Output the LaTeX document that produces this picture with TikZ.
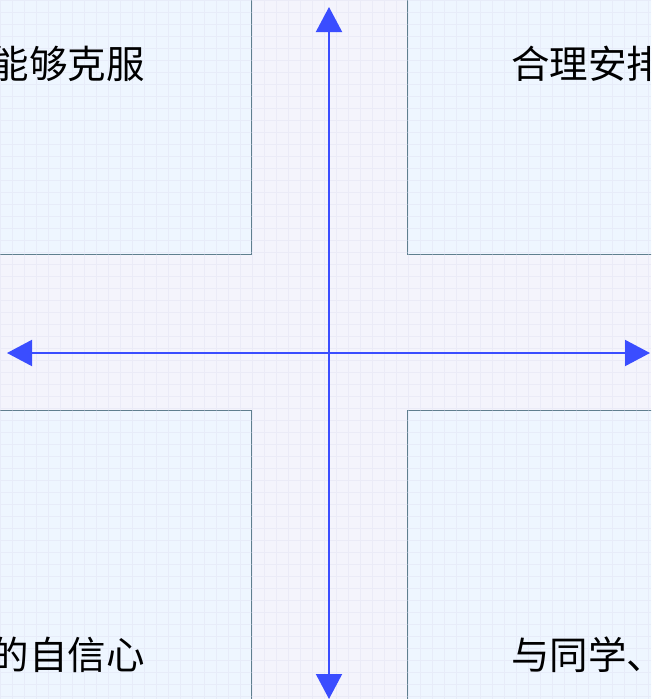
\documentclass[tikz,border=0pt]{standalone}
\usepackage{fontspec}
\newfontfamily\cjk{Noto Sans CJK SC}
\usetikzlibrary{arrows.meta}

\definecolor{paper}{HTML}{F4F4FC}
\definecolor{boxfill}{HTML}{EEF6FF}
\definecolor{boxline}{HTML}{5F7F8F}
\definecolor{axisblue}{HTML}{3A4DFF}
\definecolor{gridline}{HTML}{DCDCEE}

\tikzset{
	quad/.style={draw=boxline, fill=boxfill, line width=.9pt},
	quadtext/.style={inner sep=0pt, font=\cjk\fontsize{38.5}{44}\selectfont},
	axis/.style={draw=axisblue, line width=2pt,
		{Triangle[length=25pt, width=26pt]}-{Triangle[length=25pt, width=26pt]}}
}

\begin{document}
\begin{tikzpicture} [x=1pt, y=-1pt]

		\useasboundingbox (0,0) rectangle (651,699);

		\clip (0,0) rectangle (651,699);

		\fill [paper] (0,0) rectangle (651,699);

		% four quadrants
		\draw [quad] (-10,-10) rectangle (251,254);

		\draw [quad] (407,-10) rectangle (661,254);

		\draw [quad] (-10,410) rectangle (251,709);

		\draw [quad] (407,410) rectangle (661,709);

		\draw [gridline, opacity=.35, line width=.8pt, step=12pt] (0,0) grid (651,699);

		\node[quadtext, anchor=east] (tl) at (145,64) {能够克服};

		\node[quadtext, anchor=west] (tr) at (511,64) {合理安排};

		\node[quadtext, anchor=east] (bl) at (145,655) {的自信心};

		\node[quadtext, anchor=west] (br) at (511,655) {与同学、};

		% axes
		\coordinate (top) at (329,7);
		\coordinate (bottom) at (329,699);
		\coordinate (left) at (7,353);
		\coordinate (right) at (650,353);

		\draw [axis] (bottom) -- (top);

		\draw [axis] (left) -- (right);
	\end{tikzpicture}
\end{document}
